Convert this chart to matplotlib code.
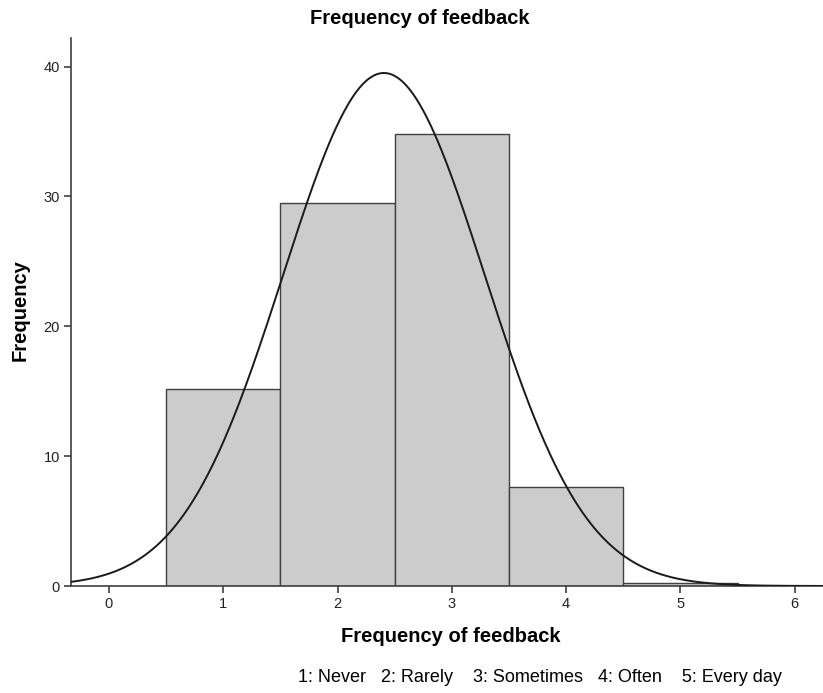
import numpy as np
import matplotlib
matplotlib.use("Agg")
import matplotlib.pyplot as plt

plt.rcParams['font.family'] = ['Liberation Sans', 'DejaVu Sans']

# Data
categories = [1, 2, 3, 4, 5]
frequencies = [15.2, 29.5, 34.8, 7.6, 0.2]
x_ticks = [0, 1, 2, 3, 4, 5, 6]
y_ticks = [0, 10, 20, 30, 40]
title = "Frequency of feedback"
x_label = "Frequency of feedback"
y_label = "Frequency"
legend_text = "1: Never   2: Rarely    3: Sometimes   4: Often    5: Every day"

cats = np.array(categories, dtype=float)
freqs = np.array(frequencies, dtype=float)
N = freqs.sum()
mean = (cats * freqs).sum() / N
sd = np.sqrt((freqs * (cats - mean) ** 2).sum() / N)

fig = plt.figure(figsize=(8.23, 6.93), dpi=100)
ax = fig.add_axes([71 / 823, 107 / 693, 1 - 71 / 823, (586 - 38) / 693])

ax.bar(cats, freqs, width=1.0, color='#cccccc', edgecolor='#404040', linewidth=1.0, zorder=2)

xs = np.linspace(-0.4, 6.4, 600)
ys = N * 1.0 / (sd * np.sqrt(2 * np.pi)) * np.exp(-0.5 * ((xs - mean) / sd) ** 2)
ax.plot(xs, ys, color='#1a1a1a', linewidth=1.4, zorder=3)

ax.set_xlim(-0.332, 6.247)
ax.set_ylim(0, 42.2)
ax.set_xticks(x_ticks)
ax.set_yticks(y_ticks)
ax.tick_params(axis='both', direction='out', length=5, width=1.2, color='#404040',
               labelsize=10.5, labelcolor='#222222', pad=3)
for s in ['top', 'right']:
    ax.spines[s].set_visible(False)
for s in ['left', 'bottom']:
    ax.spines[s].set_color('#404040')
    ax.spines[s].set_linewidth(1.2)

fig.text(420 / 823, 1 - 19 / 693, title, ha='center', va='center',
         fontsize=14.5, fontweight='bold')
fig.text(451 / 823, 1 - 636 / 693, x_label, ha='center', va='center', fontsize=14.5, fontweight='bold')
fig.text(20 / 823, 1 - 310 / 693, y_label, ha='center', va='center', rotation=90,
         fontsize=14.5, fontweight='bold')
fig.text(540 / 823, 1 - 678 / 693, legend_text, ha='center', va='center', fontsize=13)

fig.savefig("out.png", dpi=100)
